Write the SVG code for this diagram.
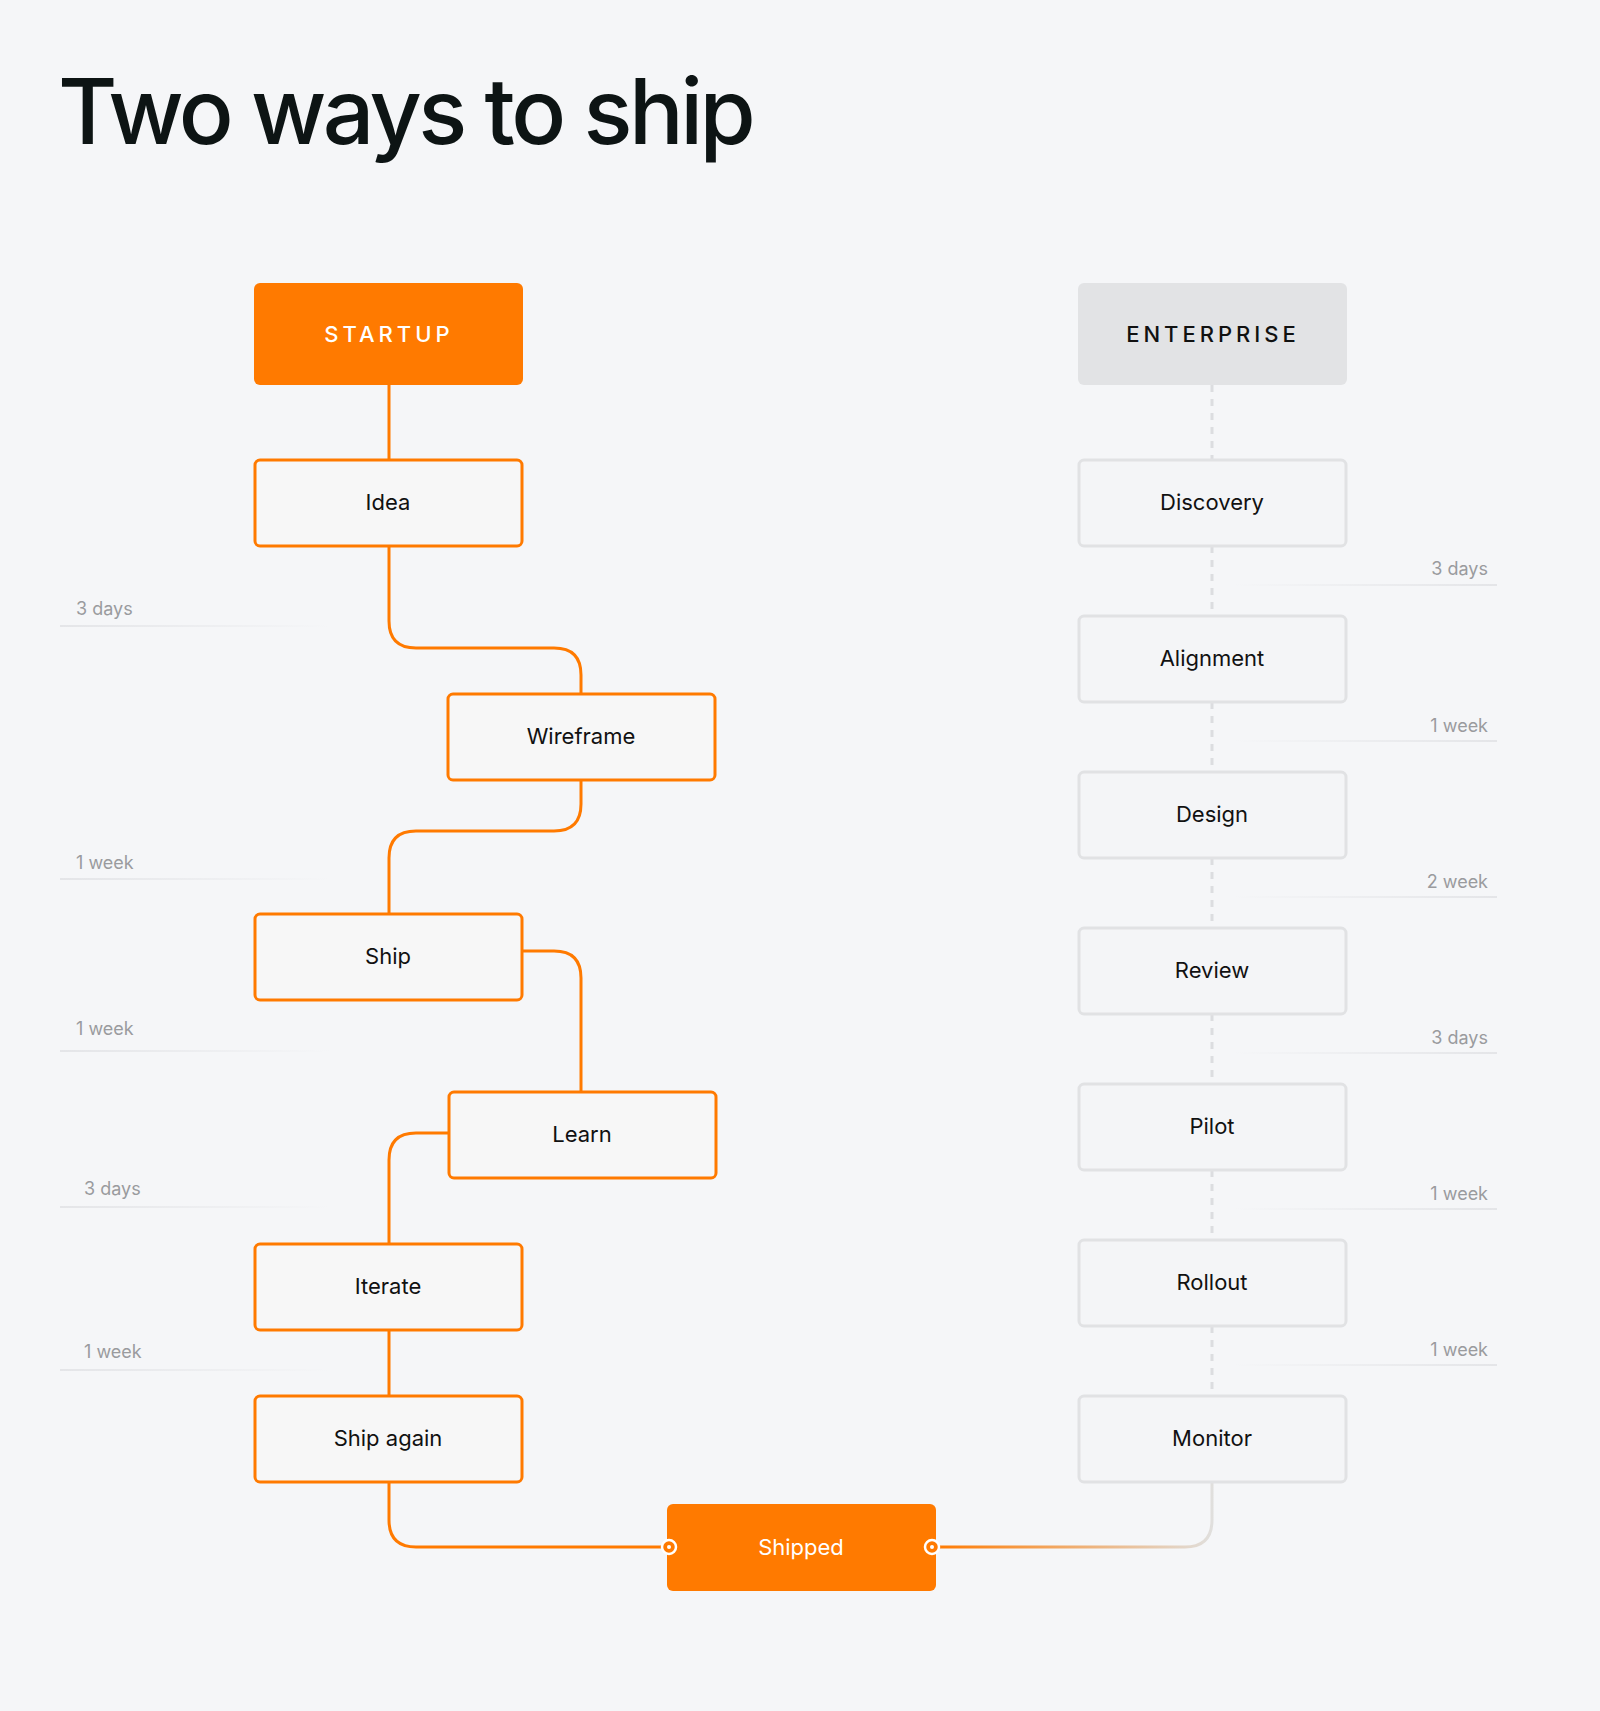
<svg xmlns="http://www.w3.org/2000/svg" width="1600" height="1711" viewBox="0 0 1600 1711">
<defs>
<linearGradient id="fadeL" x1="0" x2="1" y1="0" y2="0"><stop offset="0" stop-color="#e4e5e8"/><stop offset="1" stop-color="#e4e5e8" stop-opacity="0"/></linearGradient>
<linearGradient id="fadeR" x1="0" x2="1" y1="0" y2="0"><stop offset="0" stop-color="#e4e5e8" stop-opacity="0"/><stop offset="1" stop-color="#e4e5e8"/></linearGradient>
<linearGradient id="endG" gradientUnits="userSpaceOnUse" x1="935" y1="0" x2="1212" y2="0"><stop offset="0" stop-color="#FF7A00"/><stop offset="1" stop-color="#e0dfdd"/></linearGradient>
</defs>
<style>
.bg{fill:#F5F6F8}
.title{font-family:Inter,"Noto Sans",sans-serif;font-size:91px;font-weight:500;fill:#0d1414;letter-spacing:-3.5px}
.s{fill:#F7F7F7;stroke:#FF7A00;stroke-width:3}
.e{fill:#F4F5F7;stroke:#E1E2E4;stroke-width:3}
.t{font-family:Inter,"Noto Sans",sans-serif;font-size:22px;fill:#111;text-anchor:middle}
.w{fill:#fff}
.h{font-family:Inter,"Noto Sans",sans-serif;font-size:22px;font-weight:500;letter-spacing:4px;text-anchor:middle}
.lbl{font-family:Inter,"Noto Sans",sans-serif;font-size:18px;fill:#9a9b9e}
.oc{fill:none;stroke:#FF7A00;stroke-width:3}
.dc{fill:none;stroke:#DCDDE0;stroke-width:3;stroke-dasharray:7 7}
</style>
<rect class="bg" width="1600" height="1711"/>
<text class="title" x="58" y="144">Two ways to ship</text>

<g id="labels">
<g class="lbl">
<text x="76" y="615">3 days</text><text x="76" y="869">1 week</text><text x="76" y="1035">1 week</text><text x="84" y="1195">3 days</text><text x="84" y="1358">1 week</text>
<text x="1488" y="575" text-anchor="end">3 days</text><text x="1488" y="732" text-anchor="end">1 week</text><text x="1488" y="888" text-anchor="end">2 week</text><text x="1488" y="1044" text-anchor="end">3 days</text><text x="1488" y="1200" text-anchor="end">1 week</text><text x="1488" y="1356" text-anchor="end">1 week</text>
</g>
<g fill="url(#fadeL)"><rect x="60" y="625" width="270" height="2"/><rect x="60" y="878" width="270" height="2"/><rect x="60" y="1050" width="270" height="2"/><rect x="60" y="1206" width="270" height="2"/><rect x="60" y="1369" width="270" height="2"/></g>
<g fill="url(#fadeR)"><rect x="1233" y="584" width="264" height="2"/><rect x="1233" y="740" width="264" height="2"/><rect x="1233" y="896" width="264" height="2"/><rect x="1233" y="1052" width="264" height="2"/><rect x="1233" y="1208" width="264" height="2"/><rect x="1233" y="1364" width="264" height="2"/></g>
</g>

<g id="connectors">
<path class="oc" d="M389 385V459"/>
<path class="oc" d="M389 546V621Q389 648 416 648H554Q581 648 581 675V693"/>
<path class="oc" d="M581 780V804Q581 831 554 831H416Q389 831 389 858V913"/>
<path class="oc" d="M522 951H554Q581 951 581 978V1091"/>
<path class="oc" d="M448 1133H416Q389 1133 389 1160V1243"/>
<path class="oc" d="M389 1329V1395"/>
<path class="oc" d="M389 1481V1520Q389 1547 416 1547H667"/>
<path fill="none" stroke="url(#endG)" stroke-width="3" d="M935 1547H1185Q1212 1547 1212 1520V1482"/>
<path class="dc" d="M1212 385V459M1212 546V616M1212 702V772M1212 858V928M1212 1014V1084M1212 1170V1240M1212 1326V1396"/>
</g>

<g id="startup"><rect x="254" y="283" width="269" height="102" rx="6" fill="#FF7A00"/><text class="h" x="389" y="342" fill="#fff">STARTUP</text></g>
<g id="enterprise"><rect x="1078" y="283" width="269" height="102" rx="6" fill="#E2E3E5"/><text class="h" x="1213" y="342" fill="#111">ENTERPRISE</text></g>

<g id="idea"><rect class="s" x="255" y="460" width="267" height="86" rx="5"/><text class="t" x="388" y="510">Idea</text></g>
<g id="wireframe"><rect class="s" x="448" y="694" width="267" height="86" rx="5"/><text class="t" x="581" y="744">Wireframe</text></g>
<g id="ship"><rect class="s" x="255" y="914" width="267" height="86" rx="5"/><text class="t" x="388" y="964">Ship</text></g>
<g id="learn"><rect class="s" x="449" y="1092" width="267" height="86" rx="5"/><text class="t" x="582" y="1142">Learn</text></g>
<g id="iterate"><rect class="s" x="255" y="1244" width="267" height="86" rx="5"/><text class="t" x="388" y="1294">Iterate</text></g>
<g id="shipagain"><rect class="s" x="255" y="1396" width="267" height="86" rx="5"/><text class="t" x="388" y="1446">Ship again</text></g>

<g id="shipped"><rect x="667" y="1504" width="269" height="87" rx="6" fill="#FF7A00"/><text class="t w" x="801" y="1555">Shipped</text>
<circle cx="669" cy="1547" r="7" fill="#FF7A00" stroke="#fff" stroke-width="2.5"/><circle cx="669" cy="1547" r="2" fill="#fff"/>
<circle cx="932" cy="1547" r="7" fill="#FF7A00" stroke="#fff" stroke-width="2.5"/><circle cx="932" cy="1547" r="2" fill="#fff"/></g>

<g id="discovery"><rect class="e" x="1079" y="460" width="267" height="86" rx="5"/><text class="t" x="1212" y="510">Discovery</text></g>
<g id="alignment"><rect class="e" x="1079" y="616" width="267" height="86" rx="5"/><text class="t" x="1212" y="666">Alignment</text></g>
<g id="design"><rect class="e" x="1079" y="772" width="267" height="86" rx="5"/><text class="t" x="1212" y="822">Design</text></g>
<g id="review"><rect class="e" x="1079" y="928" width="267" height="86" rx="5"/><text class="t" x="1212" y="978">Review</text></g>
<g id="pilot"><rect class="e" x="1079" y="1084" width="267" height="86" rx="5"/><text class="t" x="1212" y="1134">Pilot</text></g>
<g id="rollout"><rect class="e" x="1079" y="1240" width="267" height="86" rx="5"/><text class="t" x="1212" y="1290">Rollout</text></g>
<g id="monitor"><rect class="e" x="1079" y="1396" width="267" height="86" rx="5"/><text class="t" x="1212" y="1446">Monitor</text></g>
</svg>
